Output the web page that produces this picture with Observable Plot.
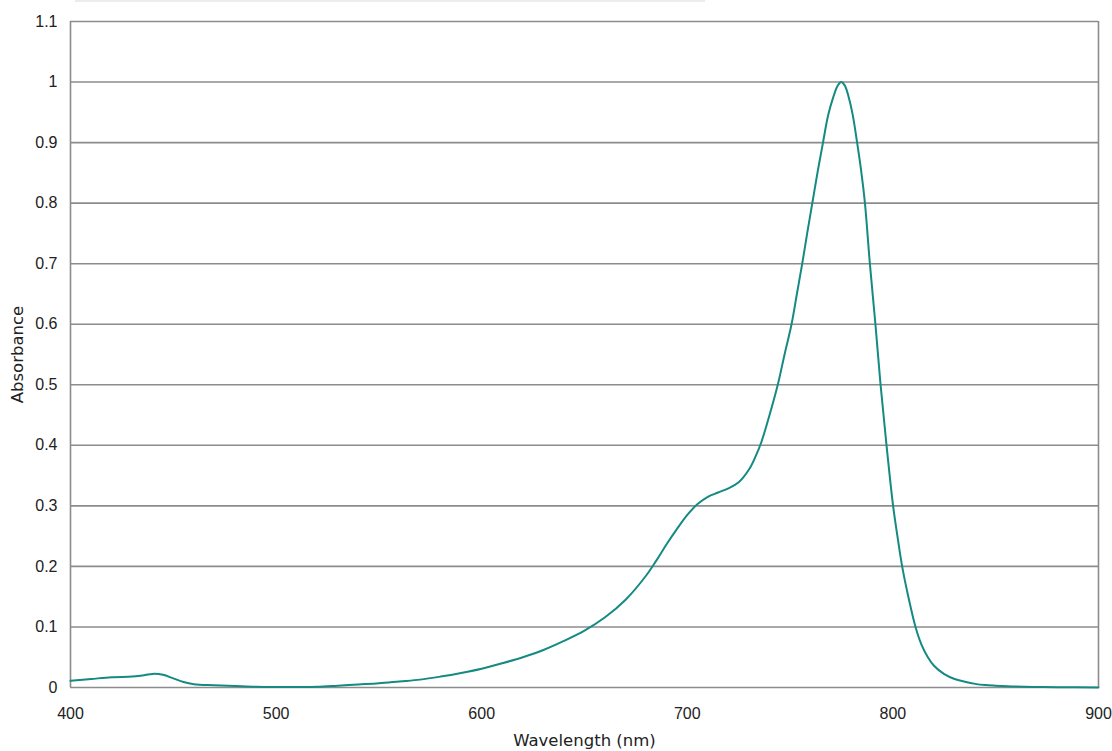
<!DOCTYPE html>
<html>
<head>
<meta charset="utf-8">
<script src="https://cdn.jsdelivr.net/npm/d3@7"></script>
<script src="https://cdn.jsdelivr.net/npm/@observablehq/plot@0.6"></script>
<style>
  html, body { margin: 0; padding: 0; background: #fff; }
  #wrap { position: relative; width: 1112px; height: 751px; }
  #topbar { position: absolute; left: 75px; top: 0; width: 630px; height: 2px; background: #ececec; }
</style>
</head>
<body>
<div id="wrap"><div id="topbar"></div><div id="chart"></div></div>
<script>
const wavelength = [400,410,420,430,435,440,445,450,455,460,470,480,490,500,510,520,530,540,550,560,570,580,590,600,610,620,630,640,650,660,670,680,685,690,695,700,705,710,715,720,725,730,733,736,740,744,747.3,750.7,753.3,755.9,758.3,760.8,763.3,766,768.5,771,773,774.8,776.5,778.5,780.5,782.6,784.5,786.4,788.8,791.5,794,796.9,800.1,802.2,804.5,807.5,811,814,817,820,825,830,835,840,845,850,860,870,880,900];
const absorbance = [0.011,0.014,0.017,0.018,0.020,0.0225,0.021,0.015,0.009,0.0055,0.0038,0.0025,0.0012,0.0007,0.0008,0.0012,0.003,0.005,0.007,0.010,0.013,0.018,0.024,0.031,0.040,0.050,0.062,0.077,0.094,0.116,0.145,0.185,0.210,0.237,0.262,0.285,0.303,0.315,0.322,0.329,0.339,0.360,0.380,0.405,0.45,0.50,0.55,0.60,0.65,0.70,0.75,0.80,0.85,0.90,0.945,0.975,0.993,1.0,0.995,0.975,0.945,0.90,0.855,0.80,0.70,0.60,0.50,0.40,0.30,0.25,0.20,0.15,0.10,0.07,0.05,0.036,0.022,0.014,0.0095,0.006,0.004,0.003,0.0015,0.0008,0.0004,0.0002];
const xTicks = [400,500,600,700,800,900];
const yTicks = [0,0.1,0.2,0.3,0.4,0.5,0.6,0.7,0.8,0.9,1,1.1];
const xLabel = "Wavelength (nm)";
const yLabel = "Absorbance";

const data = wavelength.map((w, i) => ({w, a: absorbance[i]}));
const titleFont = "DejaVu Sans, Verdana, sans-serif";

const chart = Plot.plot({
  width: 1112,
  height: 751,
  marginLeft: 70,
  marginRight: 14,
  marginTop: 21,
  marginBottom: 64,
  style: { fontFamily: "Liberation Sans, Arial, sans-serif", fontSize: "16px", color: "#222", background: "#fff" },
  x: { domain: [400, 900], label: null },
  y: { domain: [0, 1.1], label: null },
  marks: [
    Plot.ruleY(yTicks, { stroke: "#8c8c8c", strokeWidth: 1.6 }),
    Plot.ruleX([400, 900], { stroke: "#8c8c8c", strokeWidth: 1.6 }),
    Plot.axisX({ ticks: xTicks, tickFormat: d => String(d), tickSize: 0, tickPadding: 20, fontSize: 16, label: null }),
    Plot.axisY({ ticks: yTicks, tickFormat: d => String(+d.toFixed(1)), tickSize: 0, tickPadding: 13, fontSize: 16, label: null }),
    Plot.line(data, { x: "w", y: "a", stroke: "#148a82", strokeWidth: 2, curve: "catmull-rom" }),
    Plot.text([xLabel], { frameAnchor: "bottom", dy: 58, fontSize: 16.5, fontFamily: titleFont, fill: "#222" }),
    Plot.text([yLabel], { frameAnchor: "left", dx: -53, rotate: -90, textAnchor: "middle", fontSize: 16.5, fontFamily: titleFont, fill: "#222" })
  ]
});
document.getElementById("chart").appendChild(chart);
</script>
</body>
</html>
